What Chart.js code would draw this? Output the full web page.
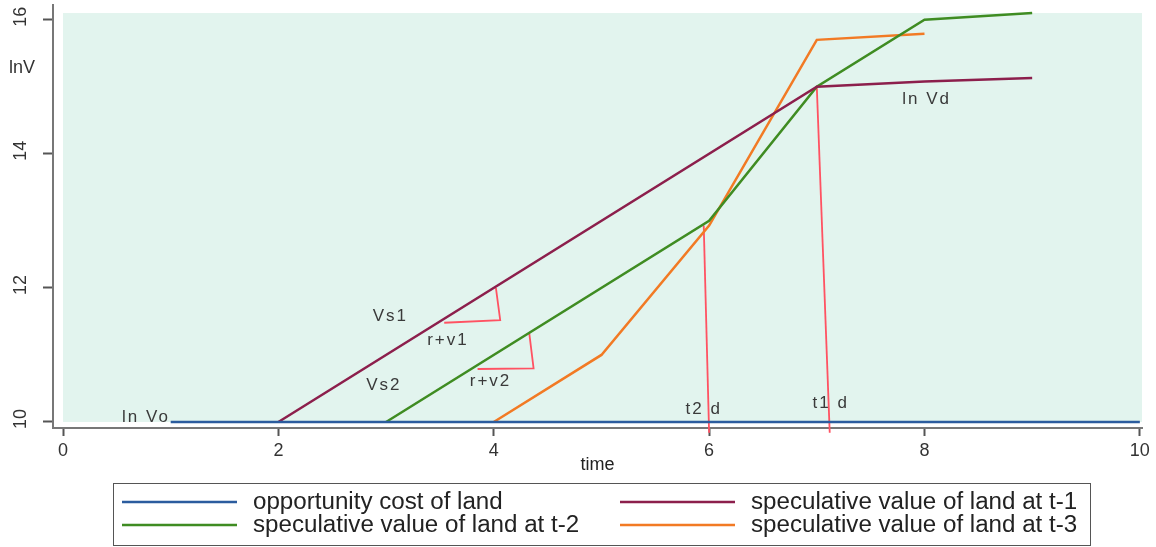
<!DOCTYPE html>
<html>
<head>
<meta charset="utf-8">
<script src="https://cdn.jsdelivr.net/npm/chart.js@4/dist/chart.umd.min.js"></script>
<style>
  body { margin: 0; background: #fff; }
  #wrap { width: 1156px; height: 547px; }
</style>
</head>
<body>
<div id="wrap"><canvas id="chart"></canvas></div>
<script>
"use strict";

// series (x = time, y = lnV)
var oppX = [1, 10];
var oppY = [10, 10];
var t1X = [2, 7, 8, 9];
var t1Y = [10, 15, 15.08, 15.13];
var t2X = [3, 6, 7, 8, 9];
var t2Y = [10, 13, 15, 16, 16.1];
var t3X = [4, 5, 6, 7, 8];
var t3Y = [10, 11, 12.93, 15.7, 15.79];

// red helper strokes (slope triangles and drop lines)
var drop2X = [5.95, 6.0];
var drop2Y = [12.93, 9.84];
var drop1X = [7.0, 7.12];
var drop1Y = [15.0, 9.84];
var tri1X = [4.02, 4.06, 3.54];
var tri1Y = [12.0, 11.52, 11.48];
var tri2X = [4.33, 4.37, 3.85];
var tri2Y = [11.32, 10.80, 10.79];

var xTicks = [0, 2, 4, 6, 8, 10];
var yTicks = [10, 12, 14, 16];

var seriesLabels = [
	"opportunity cost of land",
	"speculative value of land at t-1",
	"speculative value of land at t-2",
	"speculative value of land at t-3"
];

var notes = [
	{ text: "ln Vo", x: 0.77, y: 10.07 },
	{ text: "Vs1", x: 3.04, y: 11.58 },
	{ text: "r+v1", x: 3.575, y: 11.22 },
	{ text: "Vs2", x: 2.98, y: 10.55 },
	{ text: "r+v2", x: 3.97, y: 10.61 },
	{ text: "t2 d", x: 5.95, y: 10.19 },
	{ text: "t1 d", x: 7.13, y: 10.28 },
	{ text: "ln Vd", x: 8.02, y: 14.82 }
];

function pts(xs, ys) {
	return xs.map(function(x, i) { return { x: x, y: ys[i] }; });
}

function line(label, xs, ys, color, extra) {
	var ds = {
		label: label,
		data: pts(xs, ys),
		showLine: true,
		borderColor: color,
		backgroundColor: color,
		borderWidth: 2.5,
		pointRadius: 0,
		tension: 0
	};
	return Object.assign(ds, extra || {});
}

var RED = "#ff5262";

var plotBackground = {
	id: "plotBackground",
	beforeDatasetsDraw: function(chart) {
		var ctx = chart.ctx, xs = chart.scales.x, ys = chart.scales.y;
		var left = xs.getPixelForValue(0);
		var top = ys.getPixelForValue(16.1);
		var bottom = ys.getPixelForValue(10);
		ctx.save();
		ctx.fillStyle = "#e2f4ee";
		ctx.fillRect(left, top, chart.chartArea.right - left, bottom - top);
		ctx.restore();
	}
};

var extras = {
	id: "extras",
	afterDraw: function(chart) {
		var ctx = chart.ctx, xs = chart.scales.x, ys = chart.scales.y;
		ctx.save();

		// rotated y tick labels
		ctx.fillStyle = "#333";
		ctx.font = "18px 'Liberation Sans', Arial, sans-serif";
		ctx.textAlign = "center";
		ctx.textBaseline = "middle";
		yTicks.forEach(function(v) {
			ctx.save();
			ctx.translate(21, ys.getPixelForValue(v) - 3);
			ctx.rotate(-Math.PI / 2);
			ctx.fillText(String(v), 0, 0);
			ctx.restore();
		});

		// y axis title, horizontal
		ctx.fillText("lnV", 22, 68);

		// notes inside the plot
		ctx.font = "17px 'Liberation Sans', Arial, sans-serif";
		ctx.letterSpacing = "2px";
		ctx.fillStyle = "#3a3a3a";
		notes.forEach(function(n) {
			ctx.fillText(n.text, xs.getPixelForValue(n.x), ys.getPixelForValue(n.y));
		});
		ctx.letterSpacing = "0px";

		// legend box
		ctx.strokeStyle = "#555";
		ctx.lineWidth = 1;
		ctx.strokeRect(113.5, 483.5, 977, 62);
		var cols = [122, 620], rows = [502, 525];
		ctx.font = "23px 'Liberation Sans', Arial, sans-serif";
		ctx.textAlign = "left";
		ctx.fillStyle = "#222";
		for (var i = 0; i < 4; i++) {
			var ds = chart.data.datasets[i];
			var lx = cols[i % 2], ly = rows[Math.floor(i / 2)];
			ctx.strokeStyle = ds.borderColor;
			ctx.lineWidth = 2.5;
			ctx.beginPath();
			ctx.moveTo(lx, ly);
			ctx.lineTo(lx + 115, ly);
			ctx.stroke();
			ctx.save();
			ctx.translate(lx + 131, ly + 1);
			ctx.scale(1.05, 1);
			ctx.fillText(ds.label, 0, 0);
			ctx.restore();
		}
		ctx.restore();
	}
};

var ctx = document.getElementById("chart");
var chart = new Chart(ctx, {
	type: "scatter",
	data: {
		datasets: [
			line(seriesLabels[0], oppX, oppY, "#2b5c9e"),
			line(seriesLabels[1], t1X, t1Y, "#8c1f4c"),
			line(seriesLabels[2], t2X, t2Y, "#3f8c22"),
			line(seriesLabels[3], t3X, t3Y, "#f27a24"),
			line("", drop2X, drop2Y, RED, { borderWidth: 1.8, clip: false }),
			line("", drop1X, drop1Y, RED, { borderWidth: 1.8, clip: false }),
			line("", tri1X, tri1Y, RED, { borderWidth: 1.8 }),
			line("", tri2X, tri2Y, RED, { borderWidth: 1.8 })
		]
	},
	options: {
		responsive: true,
		maintainAspectRatio: false,
		animation: false,
		layout: { padding: { left: 0, right: 14, top: 5, bottom: 71 } },
		plugins: {
			legend: { display: false },
			tooltip: { enabled: false }
		},
		scales: {
			x: {
				type: "linear",
				min: -0.093,
				max: 10.02,
				afterBuildTicks: function(scale) {
					scale.ticks = xTicks.map(function(v) { return { value: v }; });
				},
				afterFit: function(scale) { scale.height = 48; },
				ticks: {
					color: "#333",
					padding: 4,
					maxRotation: 0,
					font: { family: "'Liberation Sans', Arial, sans-serif", size: 18 }
				},
				grid: { drawOnChartArea: false, drawTicks: true, tickLength: 8, tickColor: "#555", tickWidth: 2 },
				border: { color: "#777", width: 2 },
				title: {
					display: true,
					text: "time",
					color: "#222",
					padding: 0,
					font: { family: "'Liberation Sans', Arial, sans-serif", size: 18 }
				}
			},
			y: {
				type: "linear",
				min: 9.91,
				max: 16.22,
				afterBuildTicks: function(scale) {
					scale.ticks = yTicks.map(function(v) { return { value: v }; });
				},
				afterFit: function(scale) { scale.width = 53; },
				ticks: { display: false },
				grid: { drawOnChartArea: false, drawTicks: true, tickLength: 10, tickColor: "#555", tickWidth: 2 },
				border: { color: "#777", width: 2 }
			}
		}
	},
	plugins: [plotBackground, extras]
});
</script>
</body>
</html>
